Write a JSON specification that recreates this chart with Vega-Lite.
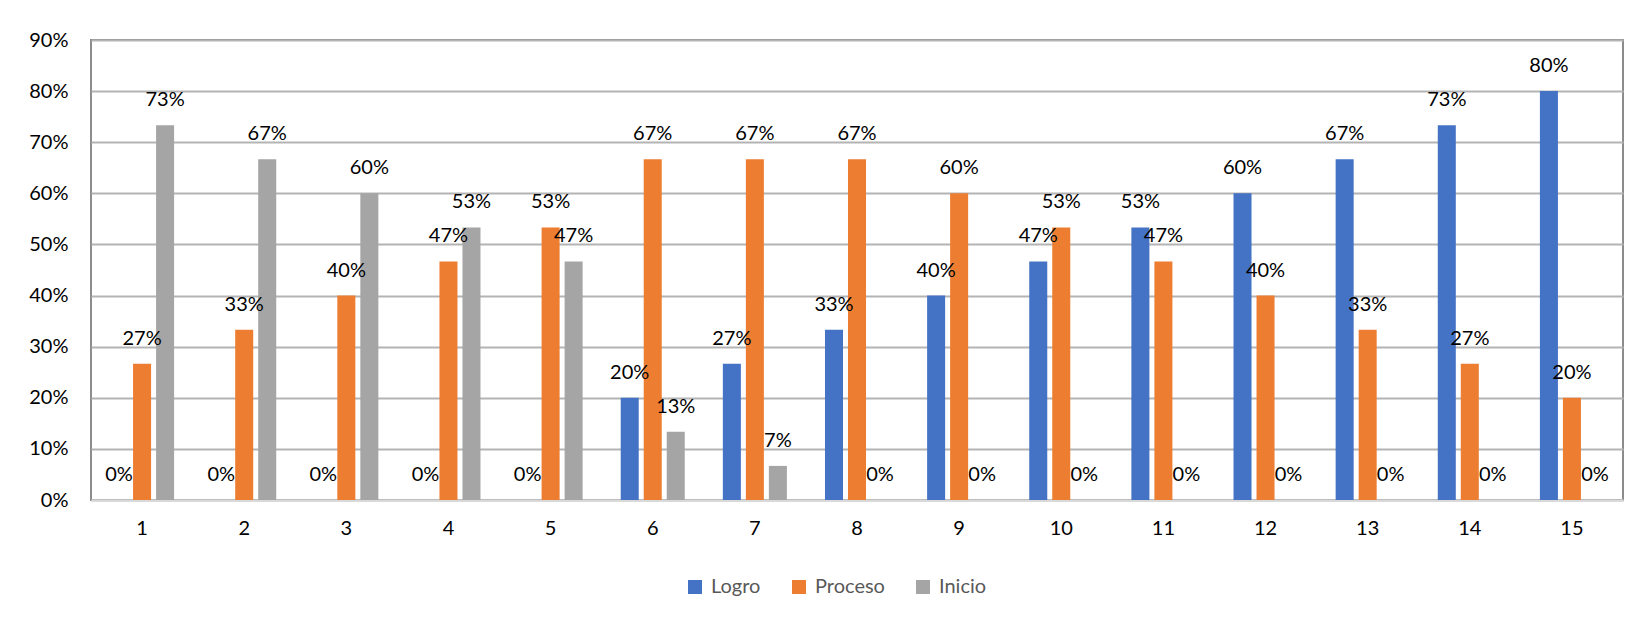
{
  "$schema": "https://vega.github.io/schema/vega-lite/v6.json",
  "width": 1532,
  "height": 460,
  "autosize": {"type": "none"},
  "padding": {"left": 91, "top": 40, "right": 12, "bottom": 119},
  "background": "white",
  "config": {"font": "Lato", "view": {"stroke": "#8C8C8C", "strokeWidth": 2}},
  "data": {
    "values": [
      {"g": 1, "serie": "Logro", "v": 0}, {"g": 1, "serie": "Proceso", "v": 0.2667}, {"g": 1, "serie": "Inicio", "v": 0.7333},
      {"g": 2, "serie": "Logro", "v": 0}, {"g": 2, "serie": "Proceso", "v": 0.3333}, {"g": 2, "serie": "Inicio", "v": 0.6667},
      {"g": 3, "serie": "Logro", "v": 0}, {"g": 3, "serie": "Proceso", "v": 0.4}, {"g": 3, "serie": "Inicio", "v": 0.6},
      {"g": 4, "serie": "Logro", "v": 0}, {"g": 4, "serie": "Proceso", "v": 0.4667}, {"g": 4, "serie": "Inicio", "v": 0.5333},
      {"g": 5, "serie": "Logro", "v": 0}, {"g": 5, "serie": "Proceso", "v": 0.5333}, {"g": 5, "serie": "Inicio", "v": 0.4667},
      {"g": 6, "serie": "Logro", "v": 0.2}, {"g": 6, "serie": "Proceso", "v": 0.6667}, {"g": 6, "serie": "Inicio", "v": 0.1333},
      {"g": 7, "serie": "Logro", "v": 0.2667}, {"g": 7, "serie": "Proceso", "v": 0.6667}, {"g": 7, "serie": "Inicio", "v": 0.0667},
      {"g": 8, "serie": "Logro", "v": 0.3333}, {"g": 8, "serie": "Proceso", "v": 0.6667}, {"g": 8, "serie": "Inicio", "v": 0},
      {"g": 9, "serie": "Logro", "v": 0.4}, {"g": 9, "serie": "Proceso", "v": 0.6}, {"g": 9, "serie": "Inicio", "v": 0},
      {"g": 10, "serie": "Logro", "v": 0.4667}, {"g": 10, "serie": "Proceso", "v": 0.5333}, {"g": 10, "serie": "Inicio", "v": 0},
      {"g": 11, "serie": "Logro", "v": 0.5333}, {"g": 11, "serie": "Proceso", "v": 0.4667}, {"g": 11, "serie": "Inicio", "v": 0},
      {"g": 12, "serie": "Logro", "v": 0.6}, {"g": 12, "serie": "Proceso", "v": 0.4}, {"g": 12, "serie": "Inicio", "v": 0},
      {"g": 13, "serie": "Logro", "v": 0.6667}, {"g": 13, "serie": "Proceso", "v": 0.3333}, {"g": 13, "serie": "Inicio", "v": 0},
      {"g": 14, "serie": "Logro", "v": 0.7333}, {"g": 14, "serie": "Proceso", "v": 0.2667}, {"g": 14, "serie": "Inicio", "v": 0},
      {"g": 15, "serie": "Logro", "v": 0.8}, {"g": 15, "serie": "Proceso", "v": 0.2}, {"g": 15, "serie": "Inicio", "v": 0}
    ]
  },
  "encoding": {
    "x": {
      "field": "g", "type": "ordinal",
      "scale": {"paddingInner": 0.324, "paddingOuter": 0.162},
      "axis": {"title": null, "labelAngle": 0, "labelFontSize": 20, "labelColor": "#000000", "ticks": false, "labelPadding": 18, "domainColor": "#D9D9D9", "domainWidth": 2, "grid": false}
    },
    "xOffset": {
      "field": "serie", "type": "nominal", "sort": ["Logro", "Proceso", "Inicio"],
      "scale": {"paddingInner": 0.217, "paddingOuter": 0.1087}
    },
    "y": {
      "field": "v", "type": "quantitative",
      "scale": {"domain": [0, 0.9], "nice": false},
      "axis": {"title": null, "format": ".0%", "values": [0, 0.1, 0.2, 0.3, 0.4, 0.5, 0.6, 0.7, 0.8, 0.9], "labelFontSize": 20, "labelColor": "#000000", "ticks": false, "domain": false, "labelPadding": 23, "gridColor": "#B4B4B4", "gridWidth": 2}
    }
  },
  "layer": [
    {
      "mark": {"type": "bar", "strokeWidth": 0},
      "encoding": {
        "color": {
          "field": "serie", "type": "nominal",
          "scale": {"domain": ["Logro", "Proceso", "Inicio"], "range": ["#4472C4", "#ED7D31", "#A5A5A5"]},
          "legend": {"title": null, "orient": "none", "legendX": 594, "legendY": 537, "direction": "horizontal", "symbolType": "square", "symbolSize": 196, "symbolStrokeWidth": 0, "labelFontSize": 20, "labelColor": "#595959", "columnPadding": 28, "labelOffset": 6}
        }
      }
    },
    {
      "mark": {"type": "text", "dy": -25, "fontSize": 20, "color": "#000000"},
      "encoding": {"text": {"field": "v", "type": "quantitative", "format": ".0%"}}
    }
  ]
}
